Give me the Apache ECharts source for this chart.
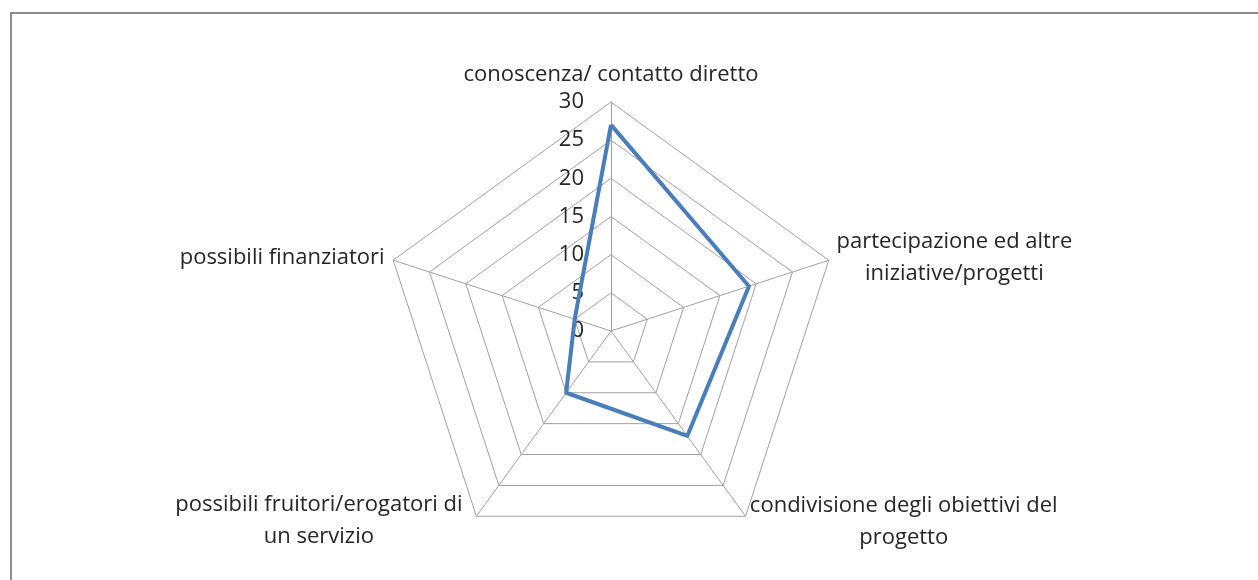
<!DOCTYPE html>
<html>
<head>
<meta charset="utf-8">
<script src="https://cdn.jsdelivr.net/npm/echarts@6/dist/echarts.min.js"></script>
<style>
  html, body { margin: 0; padding: 0; background: #fff; }
  #chart { width: 1258px; height: 580px; position: relative; }
  #frame {
    position: absolute; left: 10px; top: 12px; right: -10px; bottom: -10px;
    border-top: 2px solid #8a8a8a; border-left: 2px solid #8a8a8a;
    pointer-events: none;
  }
</style>
</head>
<body>
<div id="chart"></div>
<div id="frame"></div>
<script>
// dati del grafico (ordine orario, come nell'originale)
const categories = [
  'conoscenza/ contatto diretto',
  'partecipazione ed altre\niniziative/progetti',
  'condivisione degli obiettivi del\nprogetto',
  'possibili fruitori/erogatori di\nun servizio',
  'possibili finanziatori'
];
const values = [27, 19, 17, 10, 5];
const axisMax = 30;

// distanza etichetta-vertice e spazio extra per spostare il testo
const nameGaps = [11, 8, 7, 6, 9];
const nameExtra = [0, 0, 0, 20, 0];

// echarts disegna in senso antiorario: inverto tutto tranne il primo
const order = [0, 4, 3, 2, 1];

const font = 'Open Sans';
const fontSize = 22;
const textColor = '#262626';

// larghezza della riga più lunga, per centrare le righe fra loro
const ctx = document.createElement('canvas').getContext('2d');
ctx.font = fontSize + 'px "' + font + '"';
const rich = {};
categories.forEach(function (c, i) {
  let w = 0;
  c.split('\n').forEach(function (s) { w = Math.max(w, ctx.measureText(s).width); });
  rich['n' + i] = {
    width: Math.ceil(w) + nameExtra[i], align: 'center', lineHeight: 32,
    fontSize: fontSize, fontFamily: font, color: textColor
  };
});

const chart = echarts.init(document.getElementById('chart'));

const option = {
  animation: false,
  radar: {
    center: [611, 331],
    radius: 229,
    startAngle: 90,
    shape: 'polygon',
    splitNumber: 6,
    indicator: order.map(function (i) {
      const ind = { name: categories[i], min: 0, max: axisMax, nameGap: nameGaps[i] };
      if (i === 0) {
        ind.axisLabel = { show: true };
      }
      return ind;
    }),
    axisName: {
      color: textColor,
      fontFamily: font,
      fontSize: fontSize,
      formatter: function (name) {
        const key = 'n' + categories.indexOf(name);
        return name.split('\n').map(function (s) {
          return '{' + key + '|' + s + '}';
        }).join('\n');
      },
      rich: rich
    },
    axisLine: { lineStyle: { color: '#a0a0a0', width: 1 } },
    splitLine: { lineStyle: { color: '#a0a0a0', width: 1 } },
    splitArea: { show: false },
    axisTick: { show: false },
    axisLabel: {
      show: false,
      margin: 27,
      color: textColor,
      fontFamily: font,
      fontSize: fontSize
    }
  },
  series: [{
    type: 'radar',
    symbol: 'none',
    lineStyle: { color: '#4a7ebb', width: 4 },
    data: [{ value: order.map(function (i) { return values[i]; }) }]
  }]
};

chart.setOption(option);
</script>
</body>
</html>
